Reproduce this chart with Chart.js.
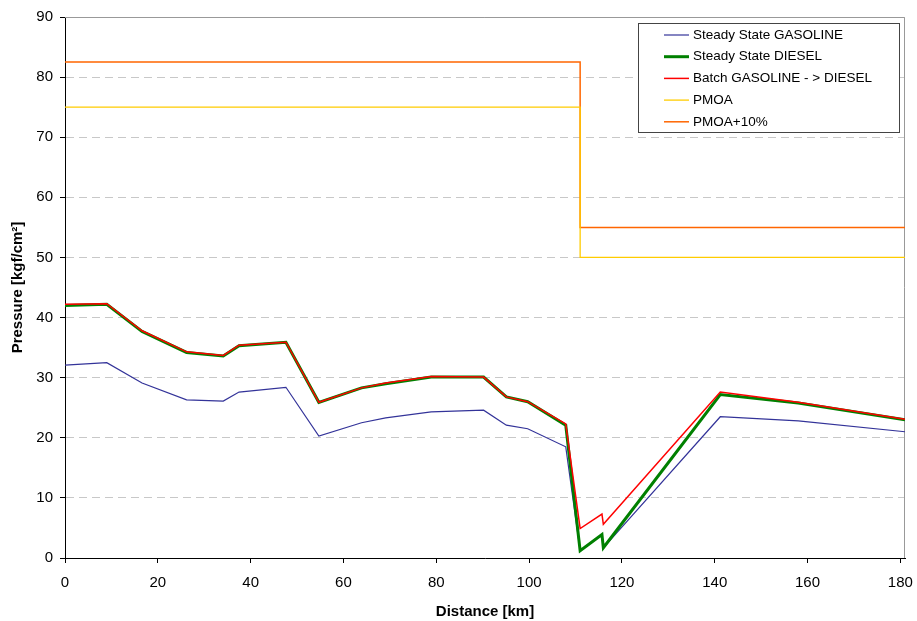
<!DOCTYPE html>
<html>
<head>
<meta charset="utf-8">
<script src="https://cdn.jsdelivr.net/npm/chart.js@4/dist/chart.umd.min.js"></script>
<style>
  html, body { margin: 0; padding: 0; background: #fff; }
  #wrap { width: 917px; height: 621px; }
</style>
</head>
<body>
<div id="wrap"><canvas id="lineChart" width="917" height="621"></canvas></div>
<script>
var distance = [0, 9, 16.6, 26.2, 34.1, 37.5, 47.6, 54.7, 63.9, 69.1, 78.9, 90.2, 95.1, 99.7, 107.9, 111, 115.7, 116, 141.2, 158, 181];
var gasoline = [32.1, 32.5, 29.1, 26.3, 26.1, 27.6, 28.4, 20.3, 22.5, 23.3, 24.3, 24.6, 22.1, 21.5, 18.5, 1.2, 3.9, 1.7, 23.5, 22.8, 21.0];
var diesel   = [42.0, 42.2, 37.7, 34.2, 33.6, 35.3, 35.9, 25.9, 28.3, 29.0, 30.1, 30.1, 26.8, 26.0, 22.1, 1.2, 3.9, 1.7, 27.2, 25.8, 23.0];
var batch    = [42.2, 42.3, 37.8, 34.3, 33.7, 35.4, 35.9, 25.9, 28.3, 29.1, 30.2, 30.1, 26.8, 26.0, 22.3, 4.9, 7.3, 5.6, 27.6, 25.9, 23.1];

var limitDistance = [0, 111, 111, 181];
var pmoa   = [75, 75, 50, 50];
var pmoa10 = [82.5, 82.5, 55, 55];

var xTicks = [0, 20, 40, 60, 80, 100, 120, 140, 160, 180];

function points(xs, ys) {
  return xs.map(function (x, i) { return { x: x, y: ys[i] }; });
}

// legend box drawn inside the plot, like the spreadsheet original
var boxLegend = {
  id: 'boxLegend',
  afterDraw: function (chart) {
    var c = chart.ctx;
    var x0 = 638.5, y0 = 23.5, w = 261, h = 109;
    c.save();
    c.fillStyle = '#fff';
    c.fillRect(x0, y0, w, h);
    c.strokeStyle = '#444';
    c.lineWidth = 1;
    c.strokeRect(x0, y0, w, h);
    c.font = '13.5px "Liberation Sans", Arial, sans-serif';
    c.textBaseline = 'middle';
    c.fillStyle = '#000';
    chart.data.datasets.forEach(function (ds, i) {
      var y = 35 + i * 21.7;
      c.strokeStyle = ds.borderColor;
      c.lineWidth = ds.borderWidth;
      c.beginPath();
      c.moveTo(664, y);
      c.lineTo(689, y);
      c.stroke();
      c.fillText(ds.label, 693, y);
    });
    c.restore();
  }
};

var plotFrame = {
  id: 'plotFrame',
  beforeDatasetsDraw: function (chart) {
    var a = chart.chartArea, c = chart.ctx;
    c.save();
    c.strokeStyle = '#999';
    c.lineWidth = 1;
    c.beginPath();
    c.moveTo(a.left, a.top + 0.5);
    c.lineTo(a.right - 0.5, a.top + 0.5);
    c.lineTo(a.right - 0.5, a.bottom);
    c.stroke();
    c.restore();
  }
};

var ctx = document.getElementById('lineChart');

var myChart = new Chart(ctx, {
  type: 'line',
  data: {
    datasets: [
      { label: 'Steady State GASOLINE', data: points(distance, gasoline), borderColor: '#333399', borderWidth: 1.2, order: 2 },
      { label: 'Steady State DIESEL', data: points(distance, diesel), borderColor: '#008000', borderWidth: 3, order: 1 },
      { label: 'Batch GASOLINE - > DIESEL', data: points(distance, batch), borderColor: '#ff0000', borderWidth: 1.5, order: 0 },
      { label: 'PMOA', data: points(limitDistance, pmoa), borderColor: '#ffcc00', borderWidth: 1.3, order: 3 },
      { label: 'PMOA+10%', data: points(limitDistance, pmoa10), borderColor: '#ff6600', borderWidth: 1.5, order: 3 }
    ]
  },
  options: {
    responsive: false,
    animation: false,
    events: [],
    elements: { point: { radius: 0 }, line: { tension: 0, fill: false } },
    layout: { padding: { top: 17, right: 12, left: 0, bottom: 0 } },
    plugins: { legend: { display: false }, tooltip: { enabled: false } },
    scales: {
      x: {
        type: 'linear',
        min: 0,
        max: 181,
        afterBuildTicks: function (axis) {
          axis.ticks = xTicks.map(function (v) { return { value: v }; });
        },
        afterFit: function (axis) {
          axis.height = 63;
          axis.paddingLeft = 0;
          axis.paddingRight = 0;
        },
        grid: { color: 'rgba(0,0,0,0)', drawOnChartArea: false, tickColor: '#000', tickLength: 5, tickBorderDash: [] },
        border: { color: '#000', width: 1 },
        ticks: { color: '#000', padding: 11, maxRotation: 0, font: { family: '"Liberation Sans", Arial', size: 15 } },
        title: { display: true, text: 'Distance [km]', color: '#000', padding: { top: 0, bottom: 0 }, font: { family: '"Liberation Sans", Arial', size: 15, weight: 'bold' } }
      },
      y: {
        min: 0,
        max: 90,
        afterFit: function (axis) { axis.width = 65; },
        ticks: { stepSize: 10, color: '#000', padding: 7, font: { family: '"Liberation Sans", Arial', size: 15 } },
        grid: { color: '#c8c8c8', tickColor: '#000', tickLength: 5, tickBorderDash: [] },
        border: { color: '#000', width: 1, dash: [8, 5] },
        title: { display: true, text: 'Pressure [kgf/cm²]', color: '#000', padding: { top: 9, bottom: 0 }, font: { family: '"Liberation Sans", Arial', size: 15, weight: 'bold' } }
      }
    }
  },
  plugins: [plotFrame, boxLegend]
});
</script>
</body>
</html>
